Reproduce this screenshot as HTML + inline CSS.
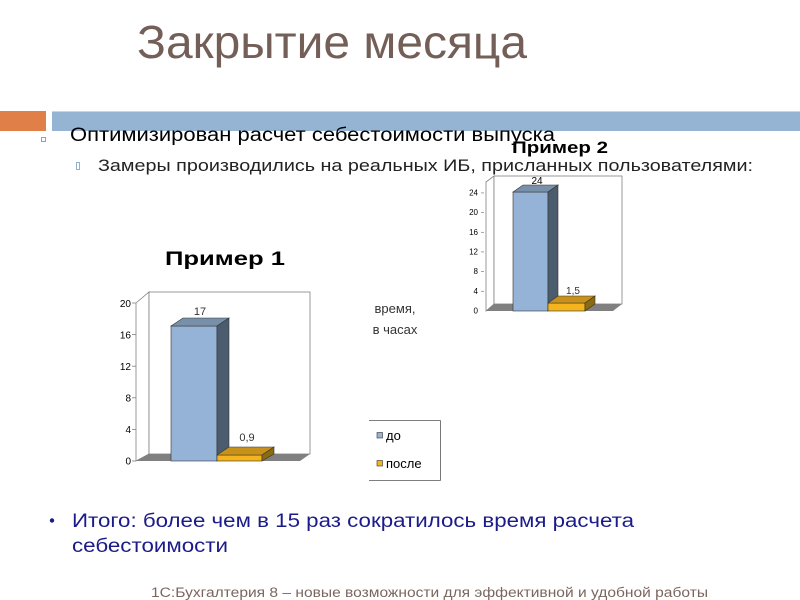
<!DOCTYPE html>
<html><head><meta charset="utf-8"><style>
html,body{margin:0;padding:0;background:#fff;}
svg{display:block;}
text{font-family:"Liberation Sans","DejaVu Sans",sans-serif;}
</style></head><body>
<svg width="800" height="600" viewBox="0 0 800 600" xmlns="http://www.w3.org/2000/svg">
<rect width="800" height="600" fill="#fff"/>
<!-- title -->
<text x="137" y="58" font-size="46" fill="#735f57" textLength="390" lengthAdjust="spacingAndGlyphs">Закрытие месяца</text>
<!-- bars -->
<rect x="0" y="111" width="46" height="20" fill="#e07f47"/>
<rect x="52" y="111" width="748" height="20" fill="#95b3d2"/>
<line x1="52" y1="111.5" x2="800" y2="111.5" stroke="#c5d6e8" stroke-width="1"/>
<!-- bullets -->
<rect x="41.5" y="137.5" width="4" height="4" fill="none" stroke="#e08a5a" stroke-width="1"/>
<text x="70" y="141" font-size="19" fill="#000" textLength="485" lengthAdjust="spacingAndGlyphs">Оптимизирован расчет себестоимости выпуска</text>
<rect x="76.5" y="162.5" width="3" height="7" fill="none" stroke="#8fb0d0" stroke-width="1"/>
<text x="98" y="171" font-size="17" fill="#222" textLength="655" lengthAdjust="spacingAndGlyphs">Замеры производились на реальных ИБ, присланных пользователями:</text>

<!-- Chart 1 -->
<text x="165" y="265" font-size="19" font-weight="bold" fill="#000" textLength="120" lengthAdjust="spacingAndGlyphs">Пример 1</text>
<polygon points="136,303 149,292 149,454 136,461" fill="#fff" stroke="#808080" stroke-width="0.8"/>
<rect x="149" y="292" width="161" height="162" fill="#fff" stroke="#808080" stroke-width="0.8"/>
<polygon points="136,461 149,454 310,454 300,461" fill="#808080"/>
<g font-size="10" fill="#000" text-anchor="end">
<text x="131" y="464.5">0</text>
<text x="131" y="433">4</text>
<text x="131" y="401.5">8</text>
<text x="131" y="370">12</text>
<text x="131" y="338.5">16</text>
<text x="131" y="307">20</text>
</g>
<g stroke="#808080" stroke-width="0.8">
<line x1="132" y1="461" x2="136" y2="461"/>
<line x1="132" y1="429.4" x2="136" y2="429.4"/>
<line x1="132" y1="397.8" x2="136" y2="397.8"/>
<line x1="132" y1="366.2" x2="136" y2="366.2"/>
<line x1="132" y1="334.6" x2="136" y2="334.6"/>
<line x1="132" y1="303" x2="136" y2="303"/>
</g>
<!-- blue bar 1 -->
<rect x="171" y="326" width="46" height="135" fill="#95b3d7" stroke="#333" stroke-width="0.6"/>
<polygon points="171,326 183,318 229,318 217,326" fill="#7890aa" stroke="#333" stroke-width="0.6"/>
<polygon points="217,326 229,318 229,454 217,461" fill="#4a5c6e" stroke="#333" stroke-width="0.6"/>
<!-- orange bar 1 -->
<rect x="217" y="455" width="45" height="6" fill="#f5b41e" stroke="#333" stroke-width="0.6"/>
<polygon points="217,455 229,447 274,447 262,455" fill="#c8921a" stroke="#333" stroke-width="0.6"/>
<polygon points="262,455 274,447 274,454 262,461" fill="#8c6a10" stroke="#333" stroke-width="0.6"/>
<text x="200" y="315" font-size="11" fill="#333" text-anchor="middle">17</text>
<text x="247" y="441" font-size="11" fill="#333" text-anchor="middle">0,9</text>

<!-- Chart 2 -->
<polygon points="486,182 494,176 494,304 486,311" fill="#fff" stroke="#808080" stroke-width="0.8"/>
<rect x="494" y="176" width="128" height="128" fill="#fff" stroke="#808080" stroke-width="0.8"/>
<polygon points="486,311 494,304 622,304 613,311" fill="#808080"/>
<g font-size="8" fill="#000" text-anchor="end">
<text x="478" y="313.5">0</text>
<text x="478" y="293.8">4</text>
<text x="478" y="274.1">8</text>
<text x="478" y="254.4">12</text>
<text x="478" y="234.8">16</text>
<text x="478" y="215.1">20</text>
<text x="478" y="195.4">24</text>
</g>
<g stroke="#808080" stroke-width="0.7">
<line x1="481" y1="291.3" x2="484" y2="291.3"/>
<line x1="481" y1="271.6" x2="484" y2="271.6"/>
<line x1="481" y1="251.9" x2="484" y2="251.9"/>
<line x1="481" y1="232.3" x2="484" y2="232.3"/>
<line x1="481" y1="212.6" x2="484" y2="212.6"/>
<line x1="481" y1="192.9" x2="484" y2="192.9"/>
</g>
<rect x="513" y="192" width="35" height="119" fill="#95b3d7" stroke="#333" stroke-width="0.6"/>
<polygon points="513,192 523,185 558,185 548,192" fill="#7890aa" stroke="#333" stroke-width="0.6"/>
<polygon points="548,192 558,185 558,304 548,311" fill="#4a5c6e" stroke="#333" stroke-width="0.6"/>
<rect x="548" y="303" width="37" height="8" fill="#f5b41e" stroke="#333" stroke-width="0.6"/>
<polygon points="548,303 558,296 595,296 585,303" fill="#c8921a" stroke="#333" stroke-width="0.6"/>
<polygon points="585,303 595,296 595,304 585,311" fill="#8c6a10" stroke="#333" stroke-width="0.6"/>
<text x="537" y="184" font-size="10" fill="#000" text-anchor="middle">24</text>
<text x="573" y="294" font-size="10" fill="#333" text-anchor="middle">1,5</text>
<text x="512" y="153" font-size="17" font-weight="bold" fill="#000" textLength="96" lengthAdjust="spacingAndGlyphs">Пример 2</text>

<!-- axis caption -->
<text x="395" y="313" font-size="13" fill="#333" text-anchor="middle">время,</text>
<text x="395" y="334" font-size="13" fill="#333" text-anchor="middle">в часах</text>

<!-- legend -->
<g stroke="#555" stroke-width="0.8" fill="none">
<line x1="369" y1="420.5" x2="440.5" y2="420.5"/>
<line x1="440.5" y1="420.5" x2="440.5" y2="480.5"/>
<line x1="369" y1="480.5" x2="440.5" y2="480.5"/>
</g>
<rect x="377" y="432.5" width="5.5" height="5.5" fill="#95b3d7" stroke="#333" stroke-width="0.6"/>
<text x="386" y="440" font-size="13" fill="#000">до</text>
<rect x="377" y="460.5" width="5.5" height="5.5" fill="#f5b41e" stroke="#333" stroke-width="0.6"/>
<text x="386" y="468" font-size="13" fill="#000">после</text>

<!-- summary -->
<circle cx="52" cy="520.5" r="2.2" fill="#1b1b8a"/>
<text x="72" y="527" font-size="19" fill="#1b1b8a" textLength="562" lengthAdjust="spacingAndGlyphs">Итого: более чем в 15 раз сократилось время расчета</text>
<text x="72" y="552" font-size="19" fill="#1b1b8a" textLength="156" lengthAdjust="spacingAndGlyphs">себестоимости</text>

<!-- footer -->
<text x="151" y="597" font-size="13.5" fill="#7a665f" textLength="557" lengthAdjust="spacingAndGlyphs">1С:Бухгалтерия 8 – новые возможности для эффективной и удобной работы</text>
</svg>
</body></html>
